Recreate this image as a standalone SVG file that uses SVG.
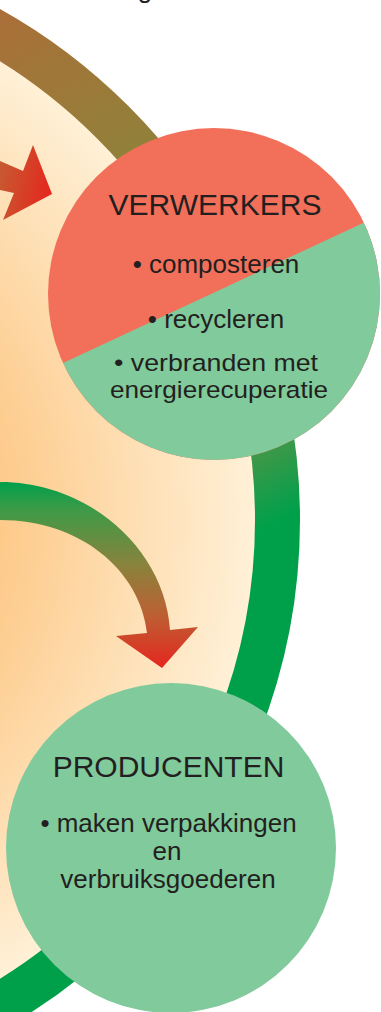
<svg xmlns="http://www.w3.org/2000/svg" width="381" height="1012" viewBox="0 0 381 1012">
  <style>
    .t { font-family: "Liberation Sans", Arial, sans-serif; fill: #231F20; text-anchor: middle; }
    .title { font-size: 30px; }
    .item { font-size: 26px; }
    .tight { font-size: 24.5px; }
  </style>
  <defs>
    <radialGradient id="innerFill" gradientUnits="userSpaceOnUse" cx="-285" cy="520" r="545">
      <stop offset="0" stop-color="#FBB566"/>
      <stop offset="0.5" stop-color="#FDC886"/>
      <stop offset="0.75" stop-color="#FEDDB0"/>
      <stop offset="1" stop-color="#FFF1D8"/>
    </radialGradient>
    <linearGradient id="ringGrad" gradientUnits="userSpaceOnUse" x1="0" y1="0" x2="300" y2="560">
      <stop offset="0" stop-color="#AB6E38"/>
      <stop offset="0.3" stop-color="#92803A"/>
      <stop offset="0.8" stop-color="#4A9648"/>
      <stop offset="0.93" stop-color="#00A04B"/>
      <stop offset="1" stop-color="#00A04B"/>
    </linearGradient>
    <linearGradient id="arrow1Grad" gradientUnits="userSpaceOnUse" x1="0" y1="180" x2="52" y2="190">
      <stop offset="0" stop-color="#C8582F"/>
      <stop offset="1" stop-color="#E5261F"/>
    </linearGradient>
    <linearGradient id="arrow2Grad" gradientUnits="userSpaceOnUse" x1="0" y1="482" x2="0" y2="668">
      <stop offset="0" stop-color="#00A04B"/>
      <stop offset="0.15" stop-color="#3E9A47"/>
      <stop offset="0.45" stop-color="#8A823C"/>
      <stop offset="0.7" stop-color="#BA6234"/>
      <stop offset="1" stop-color="#E5261F"/>
    </linearGradient>
    <clipPath id="verwClip">
      <circle cx="214" cy="294" r="166"/>
    </clipPath>
  </defs>

  <g id="background">
    <circle cx="-285" cy="520" r="541" fill="url(#innerFill)"/>
  </g>

  <text class="t" x="145" y="-2.5" font-size="26">g</text>

  <g id="connectors">
    <circle cx="-285" cy="520" r="562.5" fill="none" stroke="url(#ringGrad)" stroke-width="45"/>
    <path d="M0,161 L23,171 L33,145 L52,194 L3,220 L14,193 L0,190 Z" fill="url(#arrow1Grad)"/>
    <path d="M0,482 C90,482 165,550 170,630 L198,627 L162,668 L116,636 L147,633 C140,570 80,520 0,520 Z" fill="url(#arrow2Grad)"/>
  </g>

  <g id="verwerkers">
    <g clip-path="url(#verwClip)">
      <rect x="40" y="120" width="350" height="350" fill="#F2705A"/>
      <path d="M40,373.7 L390,210.4 L390,470 L40,470 Z" fill="#80CA9C"/>
    </g>
    <text class="t title" x="215" y="215">VERWERKERS</text>
    <text class="t item" x="216" y="273">• composteren</text>
    <text class="t item" x="216" y="328">• recycleren</text>
    <text class="t tight" x="216" y="371" textLength="204" lengthAdjust="spacingAndGlyphs">• verbranden met</text>
    <text class="t tight" x="219" y="398" textLength="218" lengthAdjust="spacingAndGlyphs">energierecuperatie</text>
  </g>

  <g id="producenten">
    <circle cx="171" cy="848" r="165" fill="#80CA9C"/>
    <text class="t title" x="168.5" y="777">PRODUCENTEN</text>
    <text class="t item" x="168.5" y="832">• maken verpakkingen</text>
    <text class="t item" x="167" y="860">en</text>
    <text class="t item" x="168" y="888">verbruiksgoederen</text>
  </g>
</svg>
